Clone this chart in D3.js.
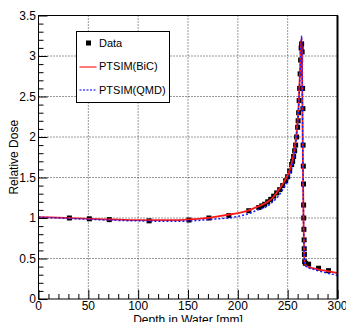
<!DOCTYPE html>
<html>
<head>
<meta charset="utf-8">
<script src="https://cdn.jsdelivr.net/npm/d3@7"></script>
<style>
  body { margin: 0; background: #fff; }
  svg { display: block; font-family: "Liberation Sans", Arial, sans-serif; }
</style>
</head>
<body>
<svg id="contenedor"></svg>
<script>
// datos medidos (profundidad en mm, dosis relativa)
let profundidadDatos = [31, 51, 71, 111, 151, 171, 191, 211, 221, 224, 227, 230, 233, 236, 239, 242, 245, 248, 250, 252, 254, 255, 256, 257, 258, 259, 260, 260.5, 261, 261.5, 262, 262.5, 263, 263.5, 264, 264.5, 265, 265.3, 265.5, 265.7, 265.9, 266, 266.1, 266.3, 266.5, 266.6, 266.8, 267, 268, 271, 281, 291];
let dosisDatos = [1.0, 0.99, 0.98, 0.965, 0.975, 1.0, 1.03, 1.09, 1.13, 1.15, 1.17, 1.2, 1.23, 1.27, 1.31, 1.35, 1.4, 1.46, 1.51, 1.58, 1.66, 1.7, 1.76, 1.83, 1.9, 2.0, 2.12, 2.2, 2.3, 2.45, 2.6, 2.78, 2.95, 3.1, 3.15, 3.05, 2.6, 2.35, 1.9, 1.64, 1.42, 1.16, 1.0, 0.86, 0.73, 0.62, 0.55, 0.46, 0.44, 0.43, 0.38, 0.35];

// simulaciones
let profundidadSim = [0, 20, 40, 60, 80, 100, 120, 140, 160, 170, 180, 190, 200, 210, 220, 230, 235, 240, 245, 250, 253, 256, 258, 260, 261, 262, 263, 263.5, 264, 264.5, 265, 265.5, 266, 266.5, 267, 267.5, 268, 270, 275, 280, 290, 300];
let dosisBiC = [1.01, 1.005, 0.995, 0.985, 0.98, 0.975, 0.975, 0.975, 0.99, 1.0, 1.02, 1.04, 1.06, 1.09, 1.14, 1.2, 1.25, 1.33, 1.42, 1.53, 1.63, 1.78, 1.95, 2.2, 2.4, 2.7, 3.0, 3.15, 3.22, 2.8, 2.1, 1.4, 0.9, 0.6, 0.46, 0.43, 0.42, 0.4, 0.38, 0.365, 0.345, 0.32];
let dosisQMD = [1.01, 1.0, 0.99, 0.98, 0.97, 0.965, 0.96, 0.96, 0.97, 0.98, 0.99, 1.0, 1.02, 1.05, 1.1, 1.15, 1.2, 1.26, 1.35, 1.47, 1.57, 1.72, 1.9, 2.15, 2.35, 2.65, 2.95, 3.15, 3.25, 2.85, 2.1, 1.4, 0.9, 0.6, 0.45, 0.42, 0.41, 0.39, 0.37, 0.35, 0.32, 0.29];

// ticks de los ejes
let ticksX = [0, 50, 100, 150, 200, 250, 300];
let ticksY = [0, 0.5, 1, 1.5, 2, 2.5, 3, 3.5];
let etiquetasY = ["0", "0.5", "1", "1.5", "2", "2.5", "3", "3.5"];

// leyenda
let nombresLeyenda = ["Data", "PTSIM(BiC)", "PTSIM(QMD)"];

// configuracion del area
function getConfig() {
  let width = 346;
  let height = 322;
  let margin = { top: 15.5, bottom: 23, left: 38.5, right: 8.5 };
  let bodyWidth = width - margin.left - margin.right;
  let bodyHeight = height - margin.top - margin.bottom;
  let container = d3.select("#contenedor").attr("width", width).attr("height", height);
  return { width, height, margin, bodyWidth, bodyHeight, container };
}

function getScales(config) {
  let xScale = d3.scaleLinear().domain([0, 300]).range([0, config.bodyWidth]);
  let yScale = d3.scaleLinear().domain([0, 3.5]).range([config.bodyHeight, 0]);
  return { xScale, yScale };
}

// rejilla punteada
function dibujarRejilla(body, scales, config) {
  let { xScale, yScale } = scales;
  body.selectAll(".gx").data(ticksX.slice(1, -1)).enter().append("line")
    .attr("x1", d => xScale(d)).attr("x2", d => xScale(d))
    .attr("y1", 0).attr("y2", config.bodyHeight)
    .attr("stroke", "#333").attr("stroke-dasharray", "1,2");
  body.selectAll(".gy").data(ticksY.slice(1, -1)).enter().append("line")
    .attr("x1", 0).attr("x2", config.bodyWidth)
    .attr("y1", d => yScale(d)).attr("y2", d => yScale(d))
    .attr("stroke", "#333").attr("stroke-dasharray", "1,2");
}

// ejes estilo ROOT
function dibujarEjes(body, scales, config) {
  let { xScale, yScale } = scales;
  let { bodyWidth, bodyHeight } = config;

  // marco
  body.append("rect").attr("width", bodyWidth).attr("height", bodyHeight)
    .attr("fill", "none").attr("stroke", "#000").attr("stroke-width", 1);
  body.append("line").attr("x1", bodyWidth).attr("x2", bodyWidth)
    .attr("y1", 0).attr("y2", bodyHeight).attr("stroke", "#000").attr("stroke-width", 2);

  let ejeX = body.append("g").attr("transform", `translate(0,${bodyHeight})`);
  ejeX.call(d3.axisTop(xScale).tickValues(d3.range(0, 301, 10)).tickSize(5).tickFormat(""));
  ejeX.call(g => g.selectAll(".tick line").filter(d => d % 50 === 0).attr("y2", -9));
  ejeX.select(".domain").remove();
  ejeX.selectAll(".tick line").attr("stroke", "#000");
  body.selectAll(".lx").data(ticksX).enter().append("text")
    .attr("x", xScale).attr("y", bodyHeight + 11)
    .attr("text-anchor", "middle").attr("font-size", "12px")
    .text(d => d);

  let ejeY = body.append("g");
  ejeY.call(d3.axisRight(yScale).tickValues(d3.range(0, 36).map(i => i / 10)).tickSize(5).tickFormat(""));
  ejeY.call(g => g.selectAll(".tick line").filter(d => Math.round(d * 10) % 5 === 0).attr("x2", 9));
  ejeY.select(".domain").remove();
  ejeY.selectAll(".tick line").attr("stroke", "#000");
  body.selectAll(".ly").data(ticksY).enter().append("text")
    .attr("x", -2.5).attr("y", d => yScale(d) + 4)
    .attr("text-anchor", "end").attr("font-size", "12px")
    .text((d, i) => etiquetasY[i]);

  // titulos
  body.append("text")
    .attr("x", bodyWidth / 2).attr("y", bodyHeight + 25)
    .attr("text-anchor", "middle").attr("font-size", "12px")
    .text("Depth in Water [mm]");
  body.append("text")
    .attr("transform", `translate(-20.5,${bodyHeight / 2}) rotate(-90)`)
    .attr("text-anchor", "middle").attr("font-size", "12px")
    .text("Relative Dose");
}

function dibujarCurvas(body, scales) {
  let { xScale, yScale } = scales;
  let linea = d3.line()
    .x(d => xScale(d[0])).y(d => yScale(d[1]))
    .curve(d3.curveMonotoneX);

  // puntos medidos
  body.selectAll(".punto").data(d3.zip(profundidadDatos, dosisDatos)).enter().append("rect")
    .attr("x", d => xScale(d[0]) - 2.5).attr("y", d => yScale(d[1]) - 2.5)
    .attr("width", 5).attr("height", 5).attr("fill", "#000");

  body.append("path").datum(d3.zip(profundidadSim, dosisBiC))
    .attr("d", linea).attr("fill", "none")
    .attr("stroke", "#ff1a1a").attr("stroke-width", 1.8);

  body.append("path").datum(d3.zip(profundidadSim, dosisQMD))
    .attr("d", linea).attr("fill", "none")
    .attr("stroke", "#1a1aff").attr("stroke-width", 1.5).attr("stroke-dasharray", "2,2");
}

function dibujarLeyenda(container) {
  let ley = container.append("g").attr("transform", "translate(76.5,31.5)");
  ley.append("rect").attr("width", 93).attr("height", 71)
    .attr("fill", "#fff").attr("stroke", "#000");
  ley.append("rect").attr("x", 9.5).attr("y", 9).attr("width", 5).attr("height", 5).attr("fill", "#000");
  ley.append("line").attr("x1", 3).attr("x2", 20).attr("y1", 35.5).attr("y2", 35.5)
    .attr("stroke", "#ff4d4d").attr("stroke-width", 1.5);
  ley.append("line").attr("x1", 3).attr("x2", 20).attr("y1", 58.5).attr("y2", 58.5)
    .attr("stroke", "#4d4dff").attr("stroke-width", 1.5).attr("stroke-dasharray", "2,1.5");
  ley.selectAll(".tl").data(nombresLeyenda).enter().append("text")
    .attr("x", 22.5).attr("y", (d, i) => 15.5 + i * 23.3)
    .attr("font-size", "11px").text(d => d);
}

function dibujarChart() {
  let config = getConfig();
  let scales = getScales(config);
  let body = config.container.append("g")
    .attr("transform", `translate(${config.margin.left},${config.margin.top})`);
  dibujarRejilla(body, scales, config);
  dibujarCurvas(body, scales);
  dibujarEjes(body, scales, config);
  dibujarLeyenda(config.container);
}

dibujarChart();
</script>
</body>
</html>
